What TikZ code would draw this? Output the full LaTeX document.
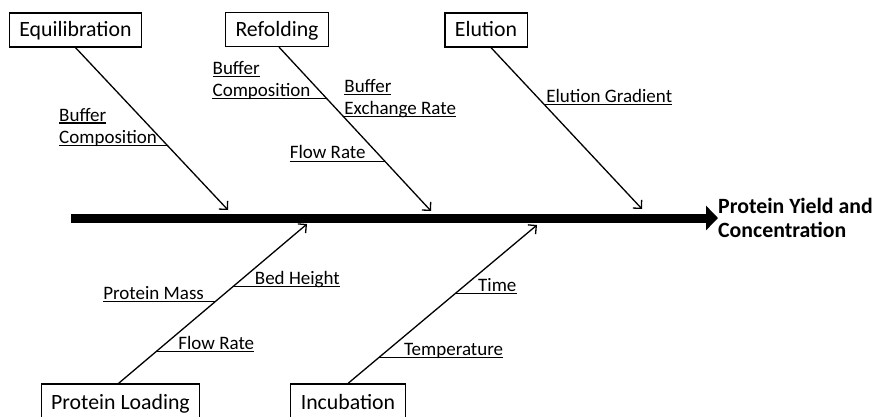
\documentclass[tikz,border=0pt]{standalone}
\usepackage{fontspec}
\setmainfont{Carlito}
\usetikzlibrary{arrows.meta,calc}
\newcommand{\ulword}[1]{\setbox0\hbox{#1}\rlap{\rule[-2.65pt]{\wd0}{1.3pt}}\box0}
\tikzset{
  cause/.style={draw,line width=1.2pt,font=\fontsize{21.8}{26}\selectfont,
        minimum height=34pt,inner xsep=10pt,inner ysep=0pt,
        text height=16pt,text depth=3pt},
  bone/.style={line width=1.3pt,-{Straight Barb[length=6pt,width=12pt]}},
  factor/.style={font=\fontsize{19}{22}\selectfont,align=left,
        inner sep=0pt,text depth=0pt},
  tick/.style={line width=1.3pt}
}

\begin{document}
\begin{tikzpicture}[x=1pt,y=-1pt]
  \useasboundingbox (0,0) rectangle (874,416);
  % cause boxes
  \node[cause] (equil) at (75.5,30) {Equilibration};
  \node[cause] (refold) at (277,29.5) {Refolding};
  \node[cause] (elut) at (486,30) {Elution};
  \node[cause,minimum height=38pt] (load) at (120.5,403) {Protein Loading};
  \node[cause,minimum height=38pt] (incub) at (348,403) {Incubation};
  % effect and spine
  \node[anchor=west,align=left,inner sep=0pt,
        font=\fontsize{21.8}{24}\selectfont\bfseries]
        (effect) at (718,218) {Protein Yield and\\Concentration};
  \coordinate (spine) at (71,218);
  \draw[line width=9pt,-{Triangle[length=12pt,width=24pt]}]
        (spine) -- (spine -| effect.west);
  % bones
  \coordinate (eqtip) at (228,210);
  \coordinate (rftip) at (431,211);
  \coordinate (eltip) at (642,209);
  \coordinate (ldtip) at (307,224);
  \coordinate (intip) at (537,225);
  \draw[bone] (equil.south) -- (eqtip);
  \draw[bone] ([xshift=2pt]refold.south) -- (rftip);
  \draw[bone] ([xshift=5pt]elut.south) -- (eltip);
  \draw[bone] ([xshift=-2pt]load.north) -- (ldtip);
  \draw[bone] (incub.north) -- (intip);
  % branch points
  \coordinate (eqb1) at ($(equil.south)!0.601!(eqtip)$);
  \coordinate (rfb1) at ($([xshift=2pt]refold.south)!0.313!(rftip)$);
  \coordinate (rfb2) at ($([xshift=2pt]refold.south)!0.4225!(rftip)$);
  \coordinate (rfb3) at ($([xshift=2pt]refold.south)!0.696!(rftip)$);
  \coordinate (elb1) at ($([xshift=5pt]elut.south)!0.352!(eltip)$);
  \coordinate (ldb1) at ($([xshift=-2pt]load.north)!0.5125!(ldtip)$);
  \coordinate (ldb2) at ($([xshift=-2pt]load.north)!0.606!(ldtip)$);
  \coordinate (ldb3) at ($([xshift=-2pt]load.north)!0.2!(ldtip)$);
  \coordinate (inb1) at ($(incub.north)!0.566!(intip)$);
  \coordinate (inb2) at ($(incub.north)!0.1635!(intip)$);
  % factors, left of the bone
  \node[factor,anchor=south east] (eqbuf) at ([xshift=-10pt,yshift=2pt]eqb1)
        {\ulword{Buffer}\\Composition};
  \node[factor,anchor=south east] (rfbuf) at ([xshift=-16pt,yshift=2pt]rfb1)
        {\ulword{Buffer}\\Composition};
  \node[factor,anchor=south east] (rfflow) at ([xshift=-19pt,yshift=2pt]rfb3)
        {Flow Rate};
  \node[factor,anchor=south east] (ldmass) at ([xshift=-11pt,yshift=2pt]ldb1)
        {Protein Mass};
  \draw[tick] (eqbuf.south west |- eqb1) -- (eqb1);
  \draw[tick] (rfbuf.south west |- rfb1) -- (rfb1);
  \draw[tick] (rfflow.south west |- rfb3) -- (rfb3);
  \draw[tick] (ldmass.south west |- ldb1) -- (ldb1);
  % factors, right of the bone
  \node[factor,anchor=south west] (rfexch) at ([xshift=1pt,yshift=2pt]rfb2)
        {\ulword{Buffer}\\Exchange Rate};
  \node[factor,anchor=south west] (elgrad) at ([xshift=2pt,yshift=2pt]elb1)
        {Elution Gradient};
  \node[factor,anchor=south west] (ldbed) at ([xshift=22pt,yshift=2pt]ldb2)
        {Bed Height};
  \node[factor,anchor=south west] (ldflow) at ([xshift=22pt,yshift=2pt]ldb3)
        {Flow Rate};
  \node[factor,anchor=south west] (intime) at ([xshift=23pt,yshift=2pt]inb1)
        {Time};
  \node[factor,anchor=south west] (intemp) at ([xshift=25pt,yshift=2pt]inb2)
        {Temperature};
  \draw[tick] (rfb2) -- (rfb2 -| rfexch.south east);
  \draw[tick] (elb1) -- (elb1 -| elgrad.south east);
  \draw[tick] (ldb2) -- (ldb2 -| ldbed.south east);
  \draw[tick] (ldb3) -- (ldb3 -| ldflow.south east);
  \draw[tick] (inb1) -- (inb1 -| intime.south east);
  \draw[tick] (inb2) -- (inb2 -| intemp.south east);
\end{tikzpicture}
\end{document}
